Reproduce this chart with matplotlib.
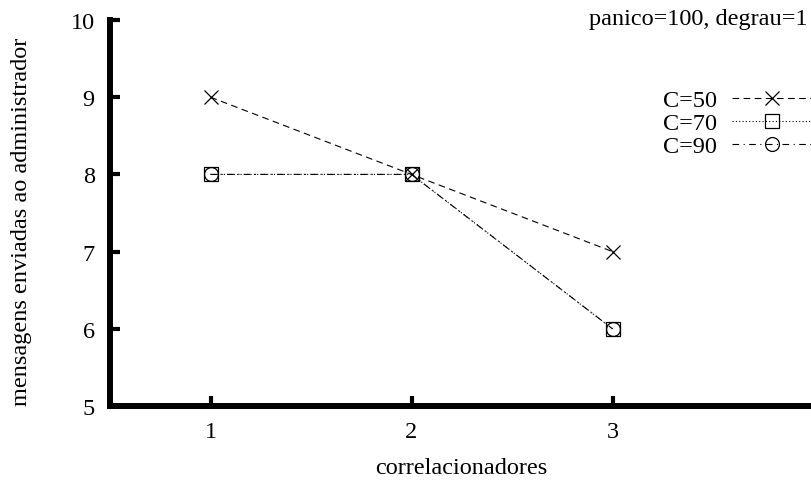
import matplotlib
matplotlib.use("Agg")
import matplotlib.pyplot as plt

plt.rcParams['font.family'] = ['Liberation Serif', 'DejaVu Serif']

correlacionadores = [1, 2, 3]
c50 = [9, 8, 7]
c70 = [8, 8, 6]
c90 = [8, 8, 6]
xticks = [1, 2, 3]
yticks = [5, 6, 7, 8, 9, 10]

FS = 17.5
W, H = 812, 481
fig = plt.figure(figsize=(W / 100, H / 100), dpi=100)
left, right, bottom, top = 110, 812, 407, 21
aw, ah = right - left, bottom - top
ax = fig.add_axes([left / W, 1 - bottom / H, aw / W, ah / H])

ax.plot(correlacionadores, c50, color='black', lw=0.8, dashes=(6, 4),
        marker='x', ms=10, mew=0.9, label='C=50')
ax.plot(correlacionadores, c70, color='black', lw=0.8, dashes=(1, 2),
        marker='s', ms=10, mew=0.9, mfc='none', label='C=70')
ax.plot(correlacionadores, c90, color='black', lw=0.8, dashes=(6, 4, 1, 4),
        marker='o', ms=10, mew=0.9, mfc='none', label='C=90')

ax.set_xlim(0.5, 0.5 + aw / 201)
ax.set_ylim(5, 10)
ax.set_xticks(xticks)
ax.set_yticks(yticks)
ax.spines['top'].set_visible(False)
ax.spines['right'].set_visible(False)
for s in ('left', 'bottom'):
    ax.spines[s].set_linewidth(4.3)
ax.tick_params(direction='in', length=7, width=3, labelsize=FS, pad=11)

ax.set_xlabel('correlacionadores', fontsize=FS)
ax.set_ylabel('mensagens enviadas ao administrador', fontsize=FS)
ax.xaxis.set_label_coords(0.5, (bottom - 458) / ah)
ax.yaxis.set_label_coords((32 - left) / aw, 0.48)

fig.text(589 / W, 1 - 20 / H, 'panico=100, degrau=1', fontsize=FS,
         ha='left', va='center')

leg = ax.legend(loc='upper right', bbox_to_anchor=(1.0, 1 - 69 / ah),
                frameon=False, markerfirst=False, fontsize=FS,
                handlelength=3.3, handletextpad=0.6, labelspacing=0.05,
                borderaxespad=0, borderpad=0)

fig.savefig('out.png', dpi=100)
